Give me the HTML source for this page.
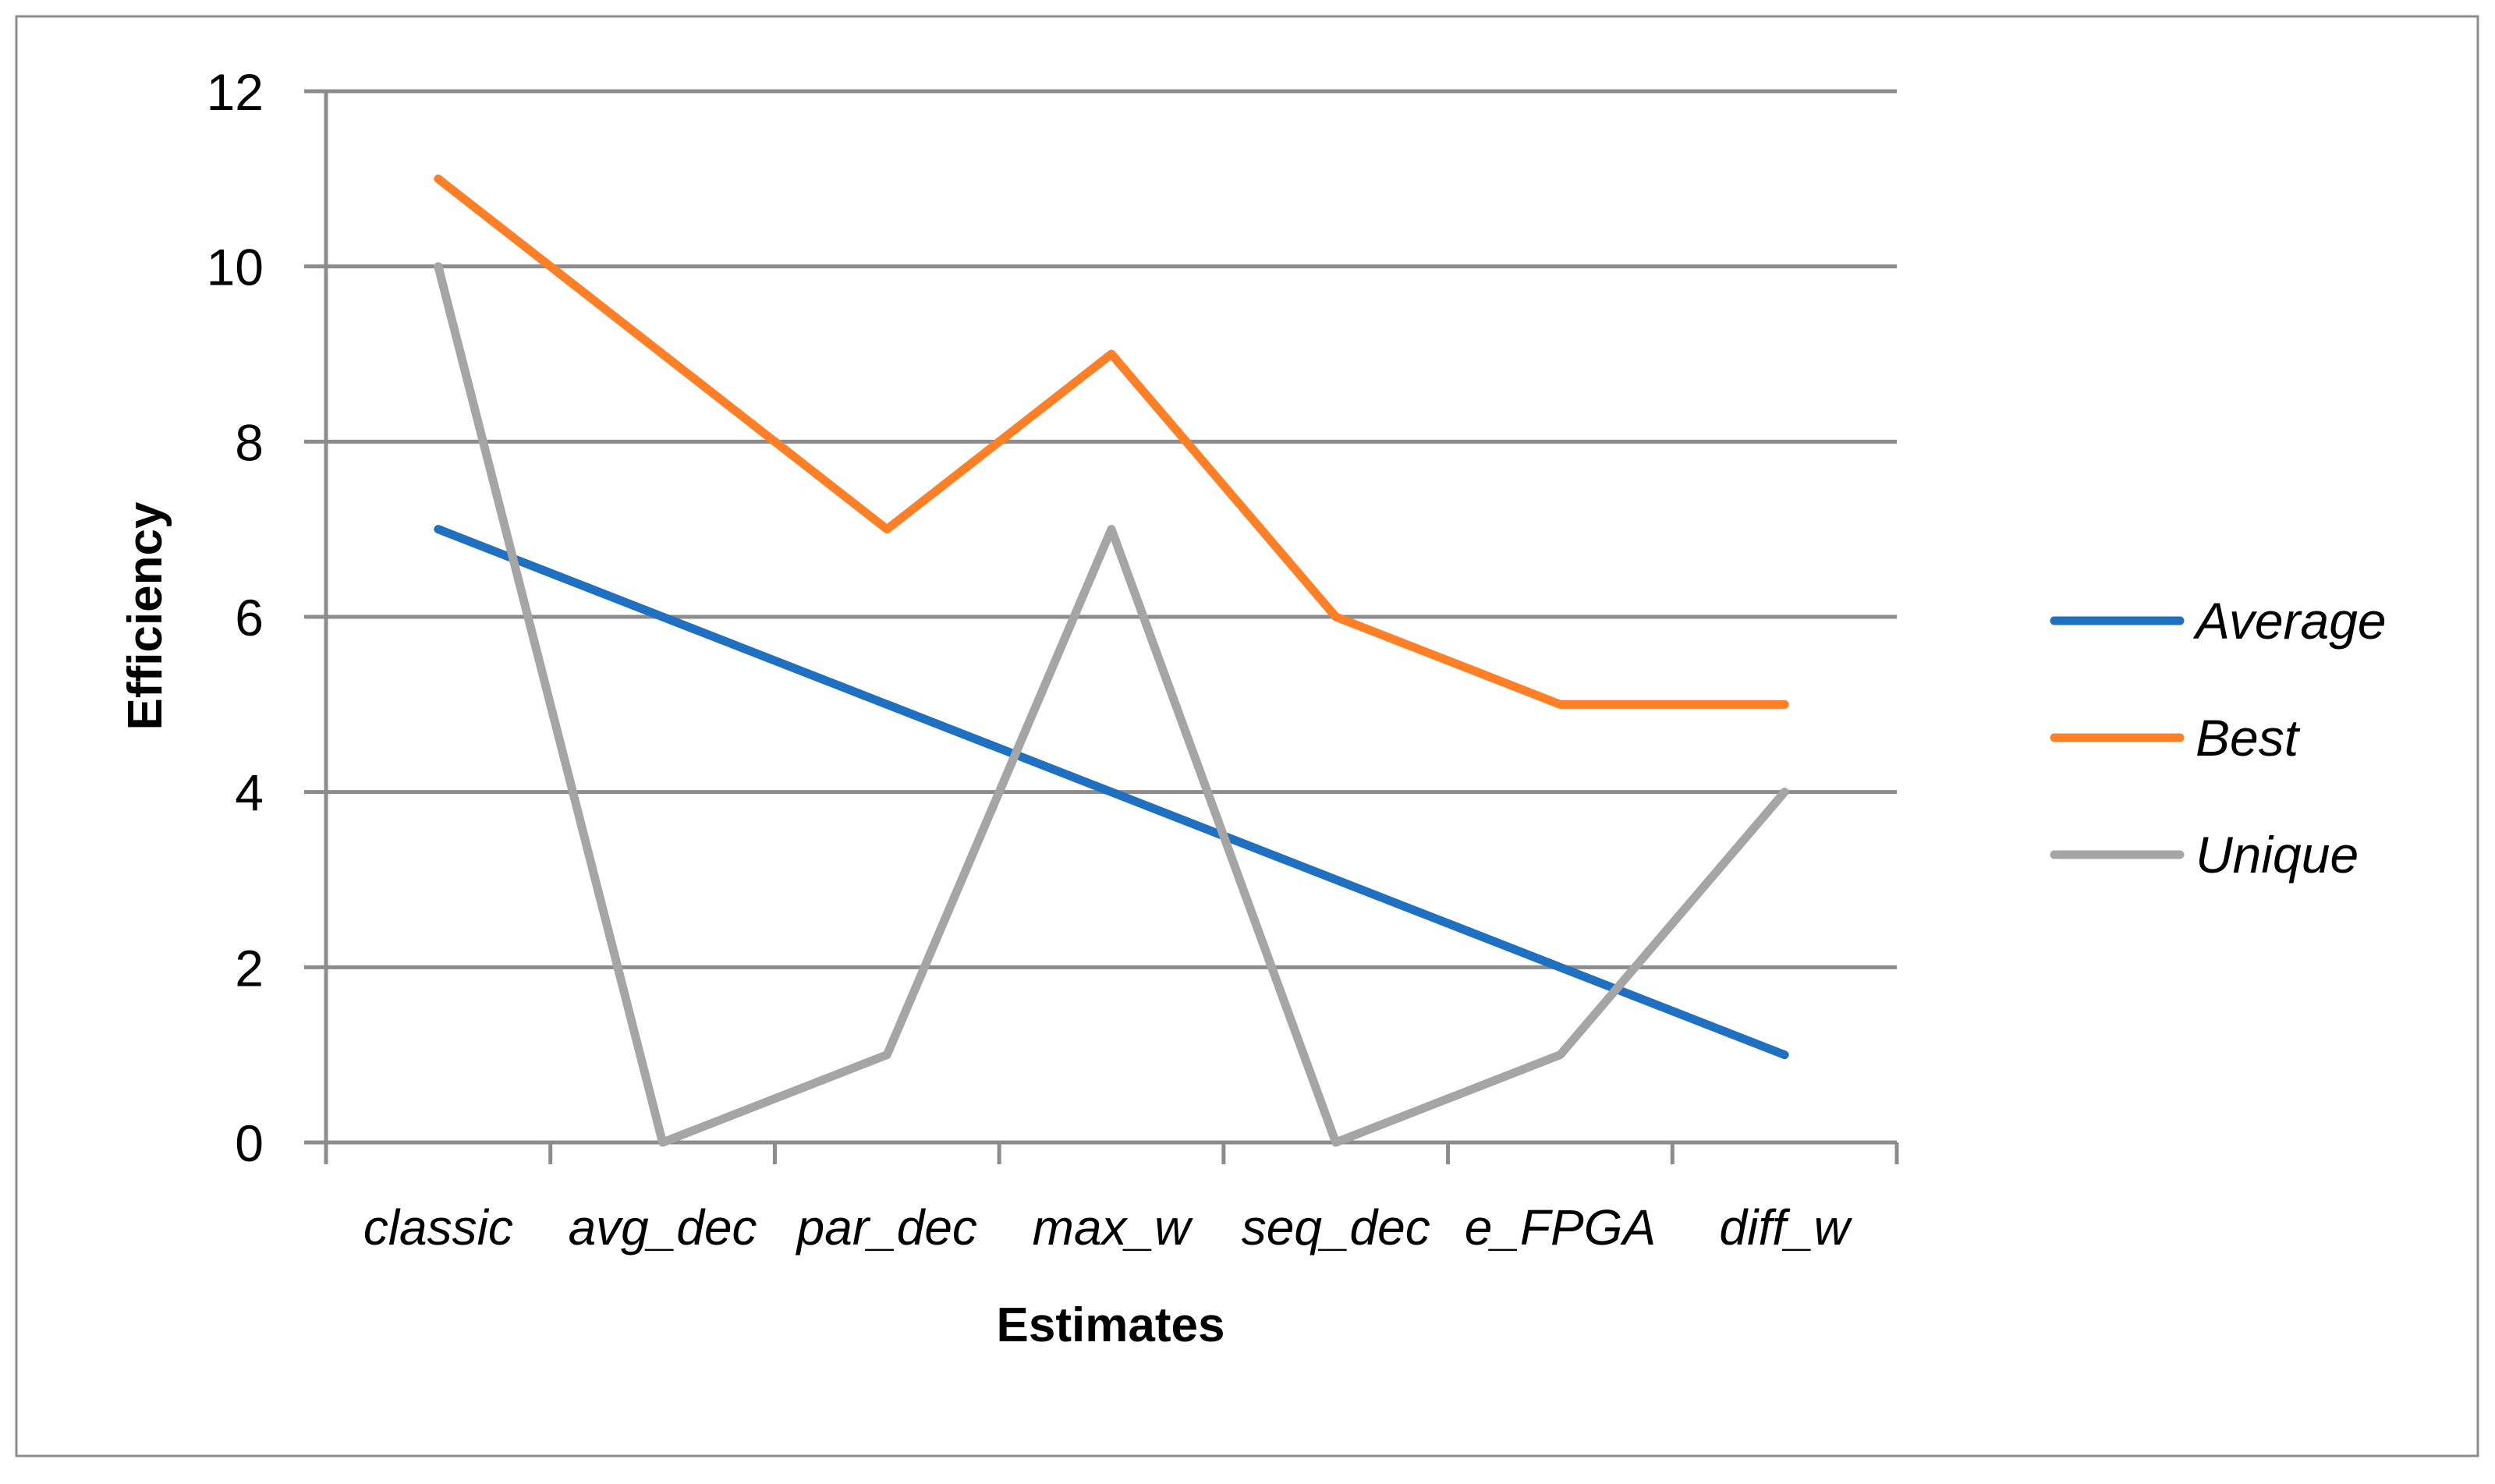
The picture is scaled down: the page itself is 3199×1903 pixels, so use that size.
<!DOCTYPE html>
<html><head><meta charset="utf-8"><style>
html,body{margin:0;padding:0;background:#fff;}
svg{display:block;font-family:"Liberation Sans",sans-serif;}
</style></head><body>
<svg id="chart" width="3199" height="1903" viewBox="0 0 3199 1903" xmlns="http://www.w3.org/2000/svg">
<rect x="21" y="21" width="3156" height="1846" fill="#fff" stroke="#8c8c8c" stroke-width="3"/>
<g id="grid"></g>
<g id="series"></g>
<text x="1424" y="1720" font-size="62" font-weight="bold" text-anchor="middle">Estimates</text>
<text transform="translate(207,790) rotate(-90)" font-size="62" font-weight="bold" text-anchor="middle">Efficiency</text>
<g id="legend"></g>
</svg>
<script>
const categories = ["classic","avg_dec","par_dec","max_w","seq_dec","e_FPGA","diff_w"];
const averageValues = [7,6,5,4,3,2,1];
const bestValues = [11,9,7,9,6,5,5];
const uniqueValues = [10,0,1,7,0,1,4];
const yTicks = [0,2,4,6,8,10,12];
const seriesNames = ["Average","Best","Unique"];
const seriesColors = ["#1f70c1","#ff7f27","#a5a5a5"];

const NS = "http://www.w3.org/2000/svg";
const L = 418, R = 2432, T = 117, B = 1465, yMax = 12;
const xs = i => L + (R - L) / categories.length * (i + 0.5);
const ys = v => B - (B - T) * v / yMax;
function mk(tag, attrs, parent) {
  const e = document.createElementNS(NS, tag);
  for (const k in attrs) e.setAttribute(k, attrs[k]);
  parent.appendChild(e);
  return e;
}
const grid = document.getElementById("grid");
yTicks.forEach(t => {
  const ln = mk("line", {x1: L - 28, x2: R, y1: ys(t), y2: ys(t), stroke: "#8c8c8c", "stroke-width": 5}, grid);
  
  
  const tx = mk("text", {x: 338, y: ys(t) + 24, "font-size": 66, "text-anchor": "end"}, grid);
  tx.textContent = t;
  
  
});
const ax = mk("line", {x1: L, x2: L, y1: T, y2: B + 28, stroke: "#8c8c8c", "stroke-width": 5}, grid);


for (let i = 0; i <= categories.length; i++) {
  const x = L + (R - L) / categories.length * i;
  const tk = mk("line", {x1: x, x2: x, y1: B, y2: B + 28, stroke: "#8c8c8c", "stroke-width": 5}, grid);
  
  
}
categories.forEach((c, i) => {
  const tx = mk("text", {x: xs(i), y: 1596, "font-size": 64, "font-style": "italic", "text-anchor": "middle"}, grid);
  tx.textContent = c;
  
  
});
const sg = document.getElementById("series");
[averageValues, bestValues, uniqueValues].forEach((vals, s) => {
  const pts = vals.map((v, i) => xs(i) + "," + ys(v)).join(" ");
  const pl = mk("polyline", {points: pts, fill: "none", stroke: seriesColors[s], "stroke-width": 11, "stroke-linejoin": "round", "stroke-linecap": "round"}, sg);
  
  
});
const lg = document.getElementById("legend");
seriesNames.forEach((n, s) => {
  const y = 796 + s * 150;
  const ln = mk("line", {x1: 2634, x2: 2795, y1: y, y2: y, stroke: seriesColors[s], "stroke-width": 11, "stroke-linecap": "round"}, lg);
  
  
  const tx = mk("text", {x: 2815, y: y + 23, "font-size": 66, "font-style": "italic"}, lg);
  tx.textContent = n;
  
  
});
</script>
</body></html>
